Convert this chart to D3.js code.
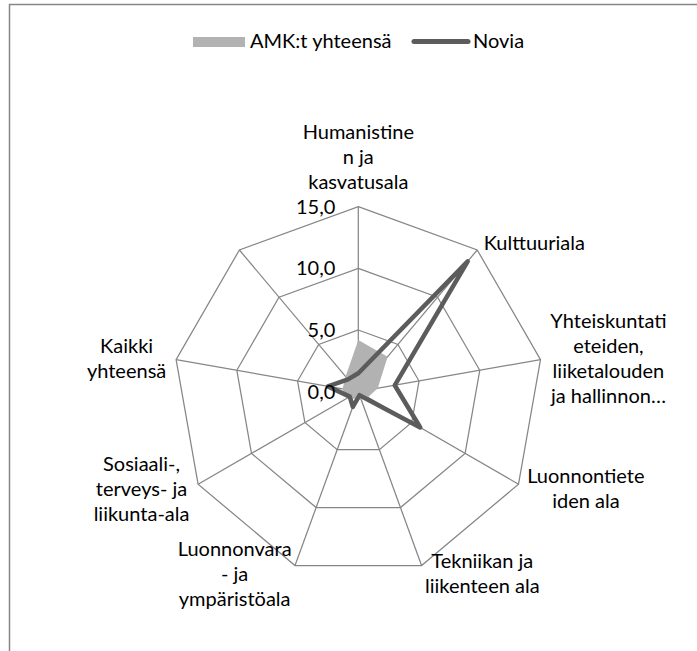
<!DOCTYPE html>
<html>
<head>
<meta charset="utf-8">
<script src="https://cdn.jsdelivr.net/npm/d3@7"></script>
<style>
  body { margin: 0; background: #fff; }
  text { font-family: Lato, "Open Sans", sans-serif; font-size: 20px; fill: #000; }
</style>
</head>
<body>
<svg id="chart" width="697" height="651"></svg>
<script>
// categories as they appear in the chart (last spoke has no label)
const categories = [
  "Humanistinen ja kasvatusala",
  "Kulttuuriala",
  "Yhteiskuntatieteiden, liiketalouden ja hallinnon…",
  "Luonnontieteiden ala",
  "Tekniikan ja liikenteen ala",
  "Luonnonvara- ja ympäristöala",
  "Sosiaali-, terveys- ja liikunta-ala",
  "Kaikki yhteensä",
  ""
];
// wrapped the same way as in the original picture
const labelLines = [
  ["Humanistine", "n ja", "kasvatusala"],
  ["Kulttuuriala"],
  ["Yhteiskuntati", "eteiden,", "liiketalouden", "ja hallinnon…"],
  ["Luonnontiete", "iden ala"],
  ["Tekniikan ja", "liikenteen ala"],
  ["Luonnonvara", "- ja", "ympäristöala"],
  ["Sosiaali-,", "terveys- ja", "liikunta-ala"],
  ["Kaikki", "yhteensä"],
  []
];
const seriesNames = ["AMK:t yhteensä", "Novia"];
const amkValues = [4.2, 3.7, 1.6, 0.9, 0.7, 0.6, 1.1, 1.3, 1.6];
const noviaValues = [1.5, 13.8, 3.0, 5.8, 0.3, 1.3, 0.8, 2.5, 1.3];
const ticks = [0, 5, 10, 15];

let svg = d3.select("#chart");
let cx = 358.3, cy = 391.7, radius = 185;
let lh = 25;

// chart area border (only top and left are inside the picture)
svg.append("rect")
  .attr("x", 9.5).attr("y", 4.5)
  .attr("width", 800).attr("height", 800)
  .attr("fill", "none")
  .attr("stroke", "#868686")
  .attr("stroke-width", 1.5);

let rScale = d3.scaleLinear().domain([0, 15]).range([0, radius]);
let step = 2 * Math.PI / categories.length;
let idx = d3.range(categories.length);

let g = svg.append("g").attr("transform", "translate(" + cx + "," + cy + ")");

// rings
g.selectAll(".ring")
  .data(ticks.filter(t => t > 0))
  .enter().append("path")
  .attr("class", "ring")
  .attr("fill", "none")
  .attr("stroke", "#868686")
  .attr("stroke-width", 1.25)
  .attr("d", function(t) {
    return d3.lineRadial()
      .angle(function(i) { return i * step; })
      .radius(rScale(t))
      .curve(d3.curveLinearClosed)(idx);
  });

// spokes
g.selectAll(".spoke")
  .data(idx)
  .enter().append("line")
  .attr("stroke", "#868686")
  .attr("stroke-width", 1.25)
  .attr("x1", 0).attr("y1", 0)
  .attr("x2", function(i) { return rScale(15) * Math.sin(i * step); })
  .attr("y2", function(i) { return -rScale(15) * Math.cos(i * step); });

let radar = d3.lineRadial()
  .angle(function(d, i) { return i * step; })
  .radius(function(d) { return rScale(d); })
  .curve(d3.curveLinearClosed);

g.append("path")
  .datum(amkValues)
  .attr("fill", "#b2b2b2")
  .attr("d", radar);

g.append("path")
  .datum(noviaValues)
  .attr("fill", "none")
  .attr("stroke", "#5c5c5c")
  .attr("stroke-width", 4.5)
  .attr("stroke-linejoin", "round")
  .attr("d", radar);

// tick labels
g.selectAll(".tick")
  .data(ticks)
  .enter().append("text")
  .attr("text-anchor", "end")
  .attr("x", -23)
  .attr("y", function(t) { return -rScale(t) + 7; })
  .text(function(t) { return d3.format(".1f")(t).replace(".", ","); });

// category labels
idx.forEach(function(i) {
  let lines = labelLines[i];
  if (!lines.length) return;
  let a = i * step, s = Math.sin(a), c = Math.cos(a);
  let vx = rScale(15) * s, vy = -rScale(15) * c;
  let t = g.append("text").attr("text-anchor", "middle");
  lines.forEach(function(l) { t.append("tspan").text(l); });
  let w = d3.max(t.selectAll("tspan").nodes(), n => n.getComputedTextLength());
  let h = lines.length * lh;
  let bx, by;
  if (Math.abs(s) < 0.1) {
    bx = vx;
    by = vy - c * (h / 2 + 12);
  } else {
    bx = vx + Math.sign(s) * (10 * Math.abs(s) + w / 2);
    by = vy - 9 * c;
  }
  t.selectAll("tspan")
    .attr("x", bx)
    .attr("y", function(d, k) { return by - (lines.length - 1) * lh / 2 + k * lh + 7; });
});

// legend
let legend = svg.append("g");
legend.append("rect")
  .attr("x", 193).attr("y", 37)
  .attr("width", 52).attr("height", 10)
  .attr("fill", "#b2b2b2");
legend.append("text")
  .attr("x", 250).attr("y", 48)
  .text(seriesNames[0]);
legend.append("line")
  .attr("x1", 414).attr("x2", 468)
  .attr("y1", 41.5).attr("y2", 41.5)
  .attr("stroke", "#5c5c5c")
  .attr("stroke-width", 5)
  .attr("stroke-linecap", "round");
legend.append("text")
  .attr("x", 473).attr("y", 48)
  .text(seriesNames[1]);
</script>
</body>
</html>
